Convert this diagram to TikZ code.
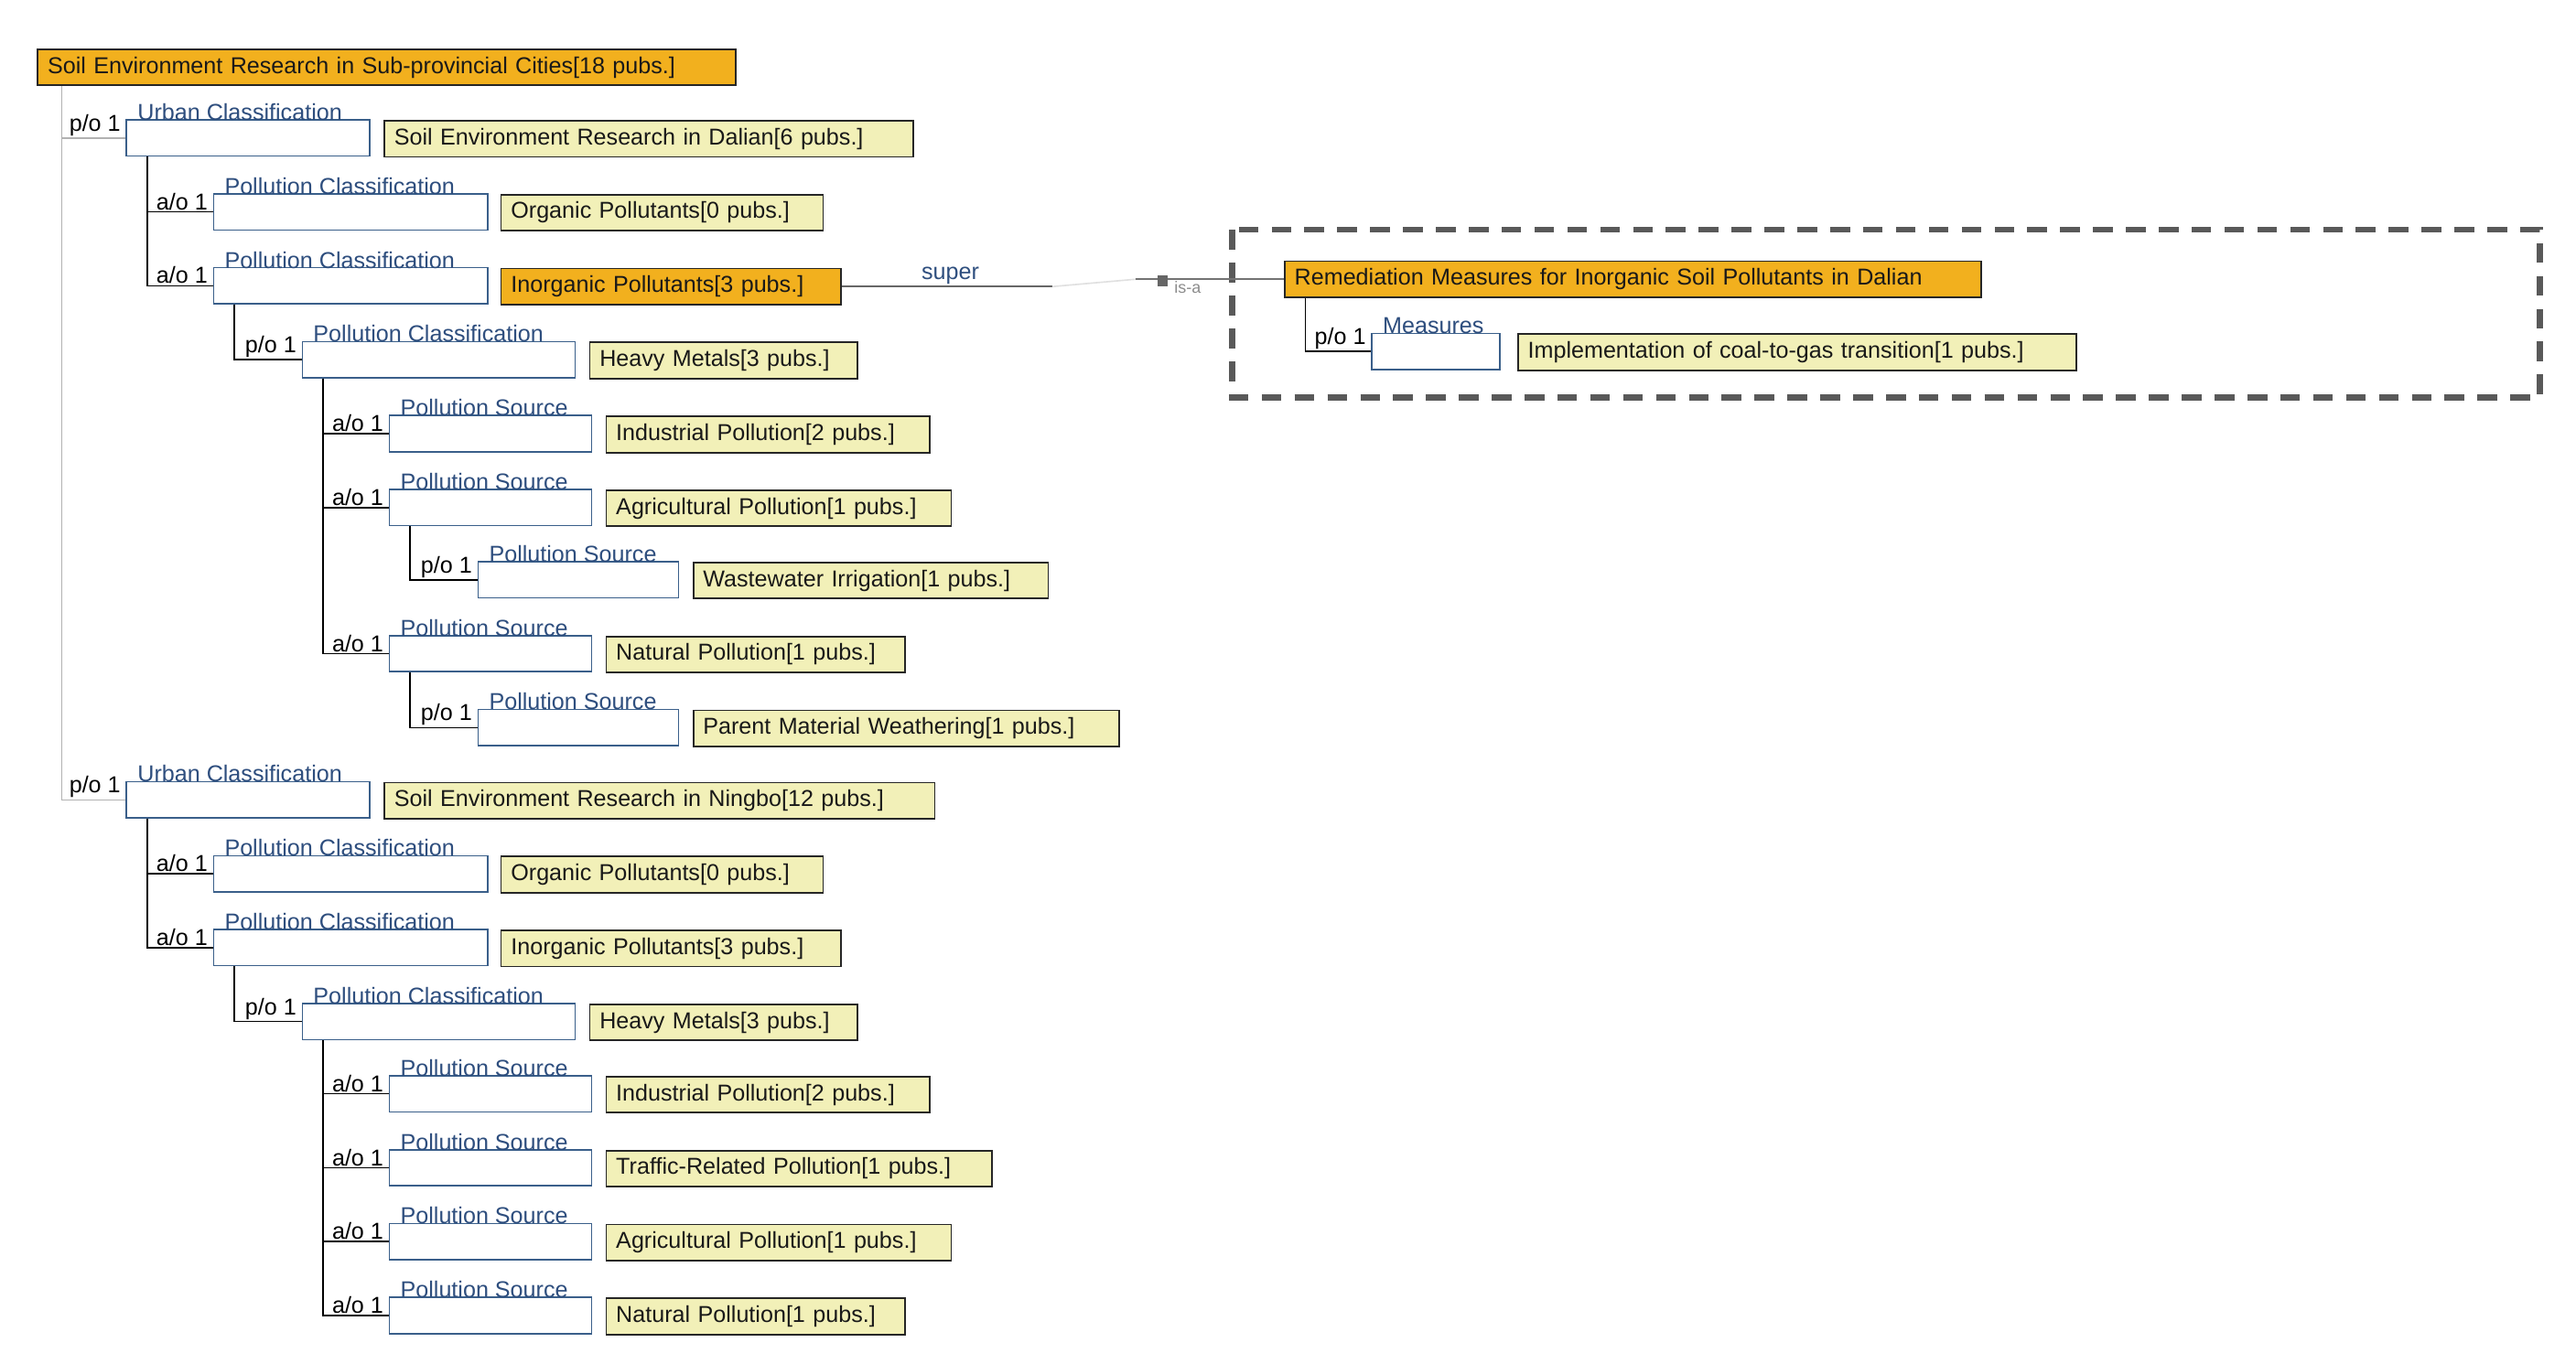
\documentclass[tikz,border=0pt]{standalone}
\usepackage{fontspec}
\setmainfont{Liberation Sans}
\usetikzlibrary{calc}
\definecolor{org}{HTML}{F2B01E}
\definecolor{yel}{HTML}{F2F0B8}
\definecolor{bbl}{HTML}{3A5F8A}
\definecolor{ctx}{HTML}{2E4E7E}
\tikzset{
 x=1pt,y=-1pt,
 every node/.style={font=\fontsize{14}{16}\selectfont, inner sep=0pt},
 bbox/.style={draw=bbl, fill=white, line width=0.9pt, minimum height=22pt},
 ybox/.style={draw=black!85, fill=yel, line width=1pt, minimum height=22pt, text=black!90, align=left, inner xsep=6pt},
 obox/.style={draw=black!85, fill=org, line width=1pt, minimum height=22pt, text=black!90, align=left, inner xsep=6pt},
 cls/.style={text=ctx, anchor=south west},
 rel/.style={text=black, anchor=south east},
 conn/.style={draw=black, line width=0.9pt},
}
\newcommand{\myrow}[9]{%
 \node[bbox, minimum width={#3-#2}] (b#1) at ({(#2+#3)/2},{#4+11}) {};
 \node[cls] at ($(b#1.north west)+(7,1)$) {#6};
 \node[rel] at ($(b#1.west)+(-3,-1)$) {#5};
 \node[\ystyle, text width={#8-#7-12}] (y#1) at ({(#7+#8)/2},{#4+11.5}) {#9};
}
\begin{document}
\begin{tikzpicture}
\useasboundingbox (0,0) rectangle (1568,830);
\fill[white] (0,0) rectangle (1568,830);
\node[obox, text width=413] (root) at (235.5,41) {Soil Environment Research in Sub-provincial Cities[18 pubs.]};
\def\ystyle{ybox}
\myrow{D}{77}{225}{73}{p/o 1}{Urban Classification}{234}{556}{Soil Environment Research in Dalian[6 pubs.]}
\myrow{DO}{130}{297}{118}{a/o 1}{Pollution Classification}{305}{501}{Organic Pollutants[0 pubs.]}
\def\ystyle{obox}
\myrow{DI}{130}{297}{163}{a/o 1}{Pollution Classification}{305}{512}{Inorganic Pollutants[3 pubs.]}
\def\ystyle{ybox}
\myrow{DH}{184}{350}{208}{p/o 1}{Pollution Classification}{359}{522}{Heavy Metals[3 pubs.]}
\myrow{DIn}{237}{360}{253}{a/o 1}{Pollution Source}{369}{566}{Industrial Pollution[2 pubs.]}
\myrow{DA}{237}{360}{298}{a/o 1}{Pollution Source}{369}{579}{Agricultural Pollution[1 pubs.]}
\myrow{DW}{291}{413}{342}{p/o 1}{Pollution Source}{422}{638}{Wastewater Irrigation[1 pubs.]}
\myrow{DN}{237}{360}{387}{a/o 1}{Pollution Source}{369}{551}{Natural Pollution[1 pubs.]}
\myrow{DP}{291}{413}{432}{p/o 1}{Pollution Source}{422}{681}{Parent Material Weathering[1 pubs.]}
\myrow{N}{77}{225}{476}{p/o 1}{Urban Classification}{234}{569}{Soil Environment Research in Ningbo[12 pubs.]}
\myrow{NO}{130}{297}{521}{a/o 1}{Pollution Classification}{305}{501}{Organic Pollutants[0 pubs.]}
\myrow{NI}{130}{297}{566}{a/o 1}{Pollution Classification}{305}{512}{Inorganic Pollutants[3 pubs.]}
\myrow{NH}{184}{350}{611}{p/o 1}{Pollution Classification}{359}{522}{Heavy Metals[3 pubs.]}
\myrow{NIn}{237}{360}{655}{a/o 1}{Pollution Source}{369}{566}{Industrial Pollution[2 pubs.]}
\myrow{NT}{237}{360}{700}{a/o 1}{Pollution Source}{369}{604}{Traffic-Related Pollution[1 pubs.]}
\myrow{NA}{237}{360}{745}{a/o 1}{Pollution Source}{369}{579}{Agricultural Pollution[1 pubs.]}
\myrow{NN}{237}{360}{790}{a/o 1}{Pollution Source}{369}{551}{Natural Pollution[1 pubs.]}
% right group
\node[obox, text width=412] (rem) at (994,170) {Remediation Measures for Inorganic Soil Pollutants in Dalian};
\def\ystyle{ybox}
\myrow{M}{835}{913}{203}{p/o 1}{Measures}{924}{1264}{Implementation of coal-to-gas transition[1 pubs.]}
\draw[draw=black!65, line width=3.5pt, dash pattern=on 12pt off 8pt] (750,140) rectangle (1546,242);
% connectors
\draw[black!30, line width=0.9pt] ($(root.south west)+(15,0)$) |- (bD.west);
\draw[black!30, line width=0.9pt] ($(root.south west)+(15,0)$) |- (bN.west);
\foreach \p/\c in {D/DO, D/DI, DI/DH, DH/DIn, DH/DA, DH/DN, DA/DW, DN/DP, N/NO, N/NI, NI/NH, NH/NIn, NH/NT, NH/NA, NH/NN}
 \draw[conn] ($(b\p.south west)+(13,0)$) |- (b\c.west);
\draw[conn] ($(rem.south west)+(13,0)$) |- (bM.west);
% super / is-a link
\coordinate (s1) at ($(yDI.east)+(128,0)$);
\coordinate (s2) at ($(rem.west)+(-90,0)$);
\draw[black!60, line width=0.9pt] (yDI.east) -- (s1);
\draw[black!12, line width=0.9pt] (s1) -- (s2);
\draw[black!55, line width=0.9pt] (s2) -- (rem.west);
\node[text=ctx, anchor=south] at ($(yDI.east)+(66,-1)$) {super};
\node[fill=black!60, minimum width=6pt, minimum height=7pt] (sq) at ($(rem.west)+(-74,1)$) {};
\node[text=black!45, font=\fontsize{10}{11}\selectfont, anchor=west] at ($(sq.east)+(4,4)$) {is-a};
\end{tikzpicture}
\end{document}
